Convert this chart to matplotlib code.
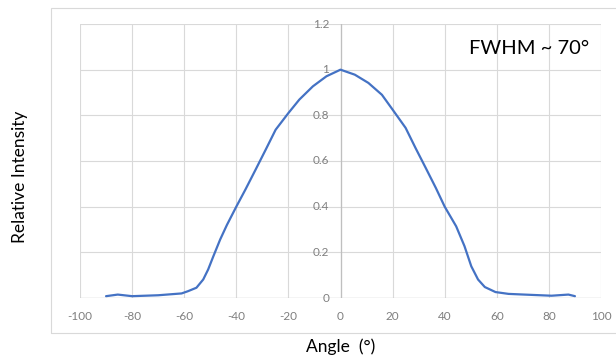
import matplotlib
matplotlib.use("Agg")
import matplotlib.pyplot as plt
from matplotlib.patches import Rectangle
import matplotlib.transforms as mtransforms

plt.rcParams['font.family'] = ['Lato', 'DejaVu Sans']

# Data
angle = [-90, -85.5, -80, -70, -61, -58.5, -55.3, -52.7, -50.8, -48.8, -46.2,
         -43.6, -40, -36.5, -32.6, -28.7, -24.9, -20, -15.8, -10.6, -5.4, 0,
         5.5, 10.7, 15.9, 20, 25, 28.8, 32.7, 36.6, 40, 44.4, 47.6, 50.2, 52.8,
         55.4, 59.5, 64.5, 70.5, 81, 87.5, 90]
intensity = [0.008, 0.015, 0.008, 0.012, 0.02, 0.03, 0.045, 0.081, 0.125, 0.183,
             0.256, 0.32, 0.40, 0.475, 0.562, 0.65, 0.737, 0.81, 0.869, 0.927,
             0.971, 1.0, 0.978, 0.942, 0.89, 0.825, 0.745, 0.657, 0.57, 0.482,
             0.40, 0.314, 0.227, 0.139, 0.081, 0.048, 0.026, 0.018, 0.015, 0.01,
             0.015, 0.008]

x_ticks = [-100, -80, -60, -40, -20, 0, 20, 40, 60, 80, 100]
y_ticks = [0, 0.2, 0.4, 0.6, 0.8, 1.0, 1.2]
y_tick_labels = ["0", "0.2", "0.4", "0.6", "0.8", "1", "1.2"]

fig = plt.figure(figsize=(6.16, 3.61), dpi=100)
fig.patch.set_facecolor('white')

# chart border
fig.patches.append(Rectangle((51/616, (361-333)/361), 1.0, (333-8)/361,
                             transform=fig.transFigure, fill=False,
                             edgecolor='#D9D9D9', linewidth=0.8))

ax = fig.add_axes([80/616, (361-298)/361, (601-80)/616, (298-24)/361])
ax.set_xlim(-100, 100)
ax.set_ylim(0, 1.2)
for s in ax.spines.values():
    s.set_visible(False)

ax.set_xticks(x_ticks)
ax.set_yticks(y_ticks)
ax.grid(True, color='#D9D9D9', linewidth=0.8)
ax.set_axisbelow(True)
ax.tick_params(axis='x', length=0, pad=9, labelsize=8.5, labelcolor='#7F7F7F')
ax.tick_params(axis='y', length=0, labelleft=False)
ax.set_xticklabels([str(t) for t in x_ticks])

# Axis lines at x=0 and y=0
ax.axvline(0, color='#BFBFBF', linewidth=0.9, zorder=1.5)
ax.axhline(0, color='#BFBFBF', linewidth=0.9, zorder=1.5)

# y tick labels next to x=0 axis
offset = mtransforms.offset_copy(ax.transData, fig=fig, x=-8, y=0, units='points')
for t, lab in zip(y_ticks, y_tick_labels):
    ax.text(0, t, lab, transform=offset, ha='right', va='center',
            fontsize=8.5, color='#7F7F7F', clip_on=False)

ax.plot(angle, intensity, color='#4472C4', linewidth=1.6, zorder=3,
        solid_joinstyle='round', solid_capstyle='round')

ax.text(0.978, 0.91, "FWHM ~ 70°", transform=ax.transAxes, ha='right', va='center',
        fontsize=14.5, color='black')

fig.text(341/616, 1 - 347/361, "Angle  (°)", ha='center', va='center',
         fontsize=12.5, color='black')
fig.text(20/616, 1 - 177/361, "Relative Intensity", ha='center', va='center',
         rotation=90, fontsize=12.5, color='black')

fig.savefig("out.png", dpi=100)
